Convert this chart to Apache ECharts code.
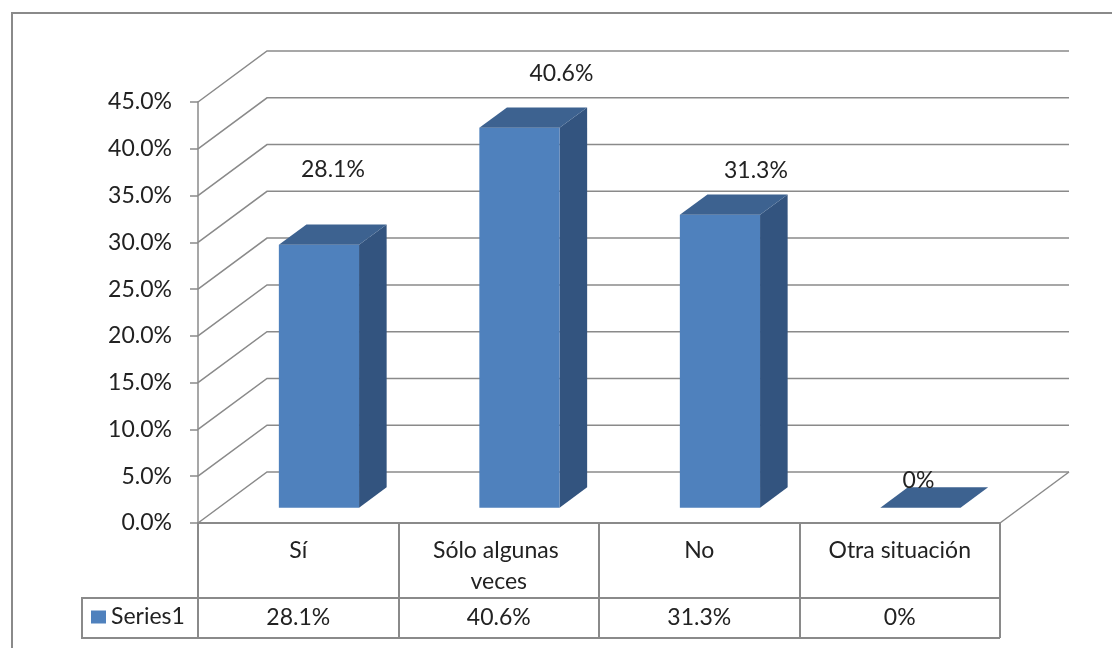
<!DOCTYPE html>
<html>
<head>
<meta charset="utf-8">
<script src="https://cdn.jsdelivr.net/npm/echarts@6/dist/echarts.min.js"></script>
<style>
  html, body { margin: 0; padding: 0; background: #fff; }
  #chart { width: 1112px; height: 648px; }
</style>
</head>
<body>
<div id="chart"></div>
<script>
// données
const categories = ['Sí', 'Sólo algunas veces', 'No', 'Otra situación'];
const values = [28.1, 40.6, 31.3, 0];
const yTicks = [0, 5, 10, 15, 20, 25, 30, 35, 40, 45];
const seriesName = 'Series1';

// réglages de la fausse 3D (profondeur en pixels)
const depthX = 69;
const depthY = 51;
const barFront = 0.3;
const barBack = 0.7;
const barWidth = 0.4;
// petits décalages des étiquettes, comme dans Excel
const labelNudge = [[14, -75], [42, -54], [36, -44], [-2, -27]];

const textColor = '#222';
const lineColor = '#8a8a8a';
const font = 'Lato';

function fmtPct(v) {
    return v === 0 ? '0%' : v.toFixed(1) + '%';
}

const chart = echarts.init(document.getElementById('chart'));

// murs et sol : une ligne brisée par graduation
function renderWall(params, api) {
    const v = api.value(1);
    const cs = params.coordSys;
    const y = api.coord([0, v])[1];
    const left = cs.x;
    const right = cs.x + cs.width;
    const children = [{
        type: 'polyline',
        shape: { points: [[left, y], [left + depthX, y - depthY], [right + depthX, y - depthY]] },
        style: { stroke: lineColor, lineWidth: 1.5, fill: null }
    }];
    if (v === 0) {
        children.push({
            type: 'line',
            shape: { x1: right, y1: y, x2: right + depthX, y2: y - depthY },
            style: { stroke: lineColor, lineWidth: 1.5 }
        });
    }
    return { type: 'group', children: children };
}

// barres en prisme
function renderBar(params, api) {
    const idx = api.value(0);
    const val = api.value(1);
    const base = api.coord([idx, 0]);
    const top = api.coord([idx, val]);
    const catW = api.size([1, 0])[0];
    const w = catW * barWidth;
    const fx = barFront * depthX, fy = barFront * depthY;
    const ddx = (barBack - barFront) * depthX, ddy = (barBack - barFront) * depthY;
    const xl = base[0] - w / 2 + fx;
    const xr = xl + w;
    const yb = base[1] - fy;
    const yt = top[1] - fy;
    const nudge = labelNudge[idx] || [0, -30];
    return {
        type: 'group',
        children: [
            {
                type: 'polygon',
                shape: { points: [[xr, yt], [xr, yb], [xr + ddx, yb - ddy], [xr + ddx, yt - ddy]] },
                style: { fill: '#33547f' }
            },
            {
                type: 'rect',
                shape: { x: xl, y: yt, width: w, height: yb - yt },
                style: { fill: '#4f81bd' }
            },
            {
                type: 'polygon',
                shape: { points: [[xl, yt], [xr, yt], [xr + ddx, yt - ddy], [xl + ddx, yt - ddy]] },
                style: { fill: '#3d6290' }
            },
            {
                type: 'text',
                style: {
                    text: fmtPct(val),
                    x: (xl + xr) / 2 + nudge[0],
                    y: yt + nudge[1],
                    align: 'center',
                    verticalAlign: 'middle',
                    fontSize: 23,
                    fontFamily: font,
                    fill: textColor
                }
            }
        ]
    };
}

const option = {
    animation: false,
    backgroundColor: '#fff',
    grid: { left: 198, top: 102, width: 802, height: 421, containLabel: false },
    legend: {
        data: [seriesName],
        left: 91,
        top: 605,
        padding: 0,
        icon: 'rect',
        itemWidth: 15,
        itemHeight: 13,
        textStyle: { fontSize: 23, fontFamily: font, color: textColor, lineHeight: 24 }
    },
    xAxis: [
        {
            type: 'category',
            data: categories,
            position: 'bottom',
            axisLine: { show: true, lineStyle: { color: lineColor, width: 2 } },
            axisTick: { show: true, length: 115, lineStyle: { color: lineColor, width: 2 } },
            axisLabel: {
                interval: 0,
                margin: 12,
                width: 170,
                overflow: 'break',
                fontSize: 23,
                lineHeight: 31,
                fontFamily: font,
                color: textColor
            },
            splitLine: { show: false }
        },
        {
            type: 'category',
            data: categories,
            position: 'bottom',
            offset: 75,
            axisLine: { show: true, lineStyle: { color: lineColor, width: 2 } },
            axisTick: { show: false },
            axisLabel: {
                interval: 0,
                margin: 5,
                fontSize: 23,
                lineHeight: 30,
                fontFamily: font,
                color: textColor,
                formatter: (v, i) => fmtPct(values[i])
            },
            splitLine: { show: false }
        }
    ],
    yAxis: {
        type: 'value',
        min: 0,
        max: 45,
        interval: 5,
        axisLine: { show: true, lineStyle: { color: lineColor, width: 1.5 } },
        axisTick: { show: true, length: 8, lineStyle: { color: lineColor, width: 1.5 } },
        axisLabel: {
            margin: 26,
            fontSize: 23,
            fontFamily: font,
            color: textColor,
            formatter: v => v.toFixed(1) + '%'
        },
        splitLine: { show: false }
    },
    graphic: [
        {
            // bordure de la zone de graphique
            type: 'rect',
            shape: { x: 12, y: 13, width: 1200, height: 700 },
            style: { fill: null, stroke: lineColor, lineWidth: 2 },
            z: -10
        },
        {
            // case de légende du tableau de données
            type: 'polyline',
            shape: { points: [[198, 598], [82, 598], [82, 638], [1000, 638]] },
            style: { fill: null, stroke: lineColor, lineWidth: 2 }
        }
    ],
    series: [
        {
            name: 'walls',
            type: 'custom',
            renderItem: renderWall,
            data: yTicks.map(v => [0, v]),
            silent: true,
            z: 1
        },
        {
            name: seriesName,
            type: 'custom',
            renderItem: renderBar,
            data: values.map((v, i) => [i, v]),
            itemStyle: { color: '#4f81bd' },
            z: 5
        }
    ]
};

chart.setOption(option);
</script>
</body>
</html>
